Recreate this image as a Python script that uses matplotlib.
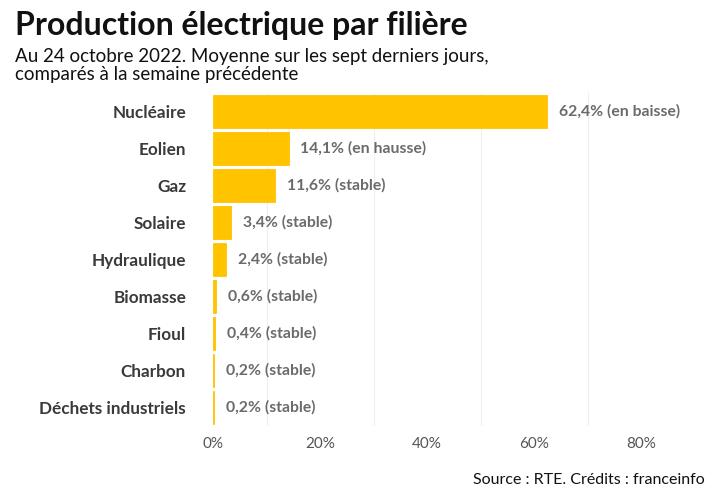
import matplotlib.pyplot as plt
from matplotlib.ticker import FixedLocator

plt.rcParams['font.family'] = ['Lato', 'DejaVu Sans']

# data
filieres = ['Nucléaire', 'Eolien', 'Gaz', 'Solaire', 'Hydraulique',
            'Biomasse', 'Fioul', 'Charbon', 'Déchets industriels']
parts = [62.4, 14.1, 11.6, 3.4, 2.4, 0.6, 0.4, 0.2, 0.2]
tendances = ['en baisse', 'en hausse', 'stable', 'stable', 'stable',
             'stable', 'stable', 'stable', 'stable']
ticks = [0, 20, 40, 60, 80]

fig = plt.figure(figsize=(7.2, 5.04), dpi=100)
ax = fig.add_axes([0.296, 0.155, 0.665, 0.66])

y = list(range(len(filieres)))
ax.barh(y, parts, height=0.9, color='#FFC300', edgecolor='#FFC300',
        linewidth=0.6, zorder=2)
ax.set_ylim(len(filieres) - 0.5, -0.5)
ax.set_xlim(0, 89.5)

for yi, v, t in zip(y, parts, tendances):
    lab = f"{v:.1f}".replace('.', ',') + f"% ({t})"
    ax.text(v + 2.2, yi, lab, va='center', ha='left', fontsize=11.3,
            fontweight='bold', color='#6b6b6b')

ax.set_yticks(y)
ax.set_yticklabels(filieres, fontsize=12.3, fontweight='bold', color='#3a3a3a')
ax.xaxis.set_major_locator(FixedLocator(ticks))
ax.set_xticklabels([f"{t}%" for t in ticks], fontsize=11, color='#555555')
ax.xaxis.set_minor_locator(FixedLocator([10, 30, 50, 70]))
ax.grid(axis='x', which='minor', color='#efefef', linewidth=0.8, zorder=0)
ax.tick_params(axis='both', which='both', length=0)
ax.tick_params(axis='y', pad=19.5)
ax.tick_params(axis='x', pad=8)
for s in ax.spines.values():
    s.set_visible(False)

fig.text(0.021, 0.978, 'Production électrique par filière', fontsize=23,
         fontweight='bold', color='#111111', va='top')
fig.text(0.021, 0.905, 'Au 24 octobre 2022. Moyenne sur les sept derniers jours,\ncomparés à la semaine précédente',
         fontsize=13.5, color='#111111', va='top', linespacing=1.05)
fig.text(0.979, 0.047, 'Source : RTE. Crédits : franceinfo', fontsize=11.5,
         color='#111111', ha='right', va='center')

fig.savefig('out.png', dpi=100)
